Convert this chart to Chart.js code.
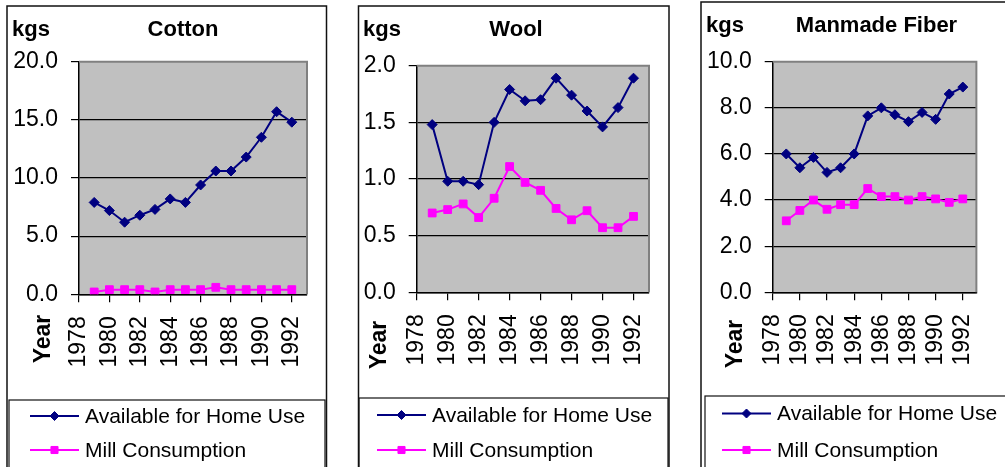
<!DOCTYPE html>
<html>
<head>
<meta charset="utf-8">
<script src="https://cdn.jsdelivr.net/npm/chart.js@4.4.1/dist/chart.umd.min.js"></script>
<style>
  html, body { margin: 0; padding: 0; background: #fff; }
  #wrap { position: relative; width: 1005px; height: 467px; overflow: hidden; background: #fff; }
  #wrap canvas { position: absolute; left: 0; top: 0; }
</style>
</head>
<body>
<div id="wrap">
  <canvas id="cotton" width="1005" height="467"></canvas>
  <canvas id="wool" width="1005" height="467"></canvas>
  <canvas id="fiber" width="1005" height="467"></canvas>
</div>
<script>
// Per-capita fibre use (kgs), 1979-1992
const years = [1979, 1980, 1981, 1982, 1983, 1984, 1985, 1986, 1987, 1988, 1989, 1990, 1991, 1992];
const yearTicks = [1978, 1980, 1982, 1984, 1986, 1988, 1990, 1992];
const yearAxisMax = 1993;

const seriesNames = ['Available for Home Use', 'Mill Consumption'];

const cottonHome = [7.9, 7.2, 6.2, 6.8, 7.3, 8.2, 7.9, 9.4, 10.6, 10.6, 11.8, 13.5, 15.7, 14.8];
const cottonMill = [0.2, 0.4, 0.4, 0.4, 0.2, 0.4, 0.4, 0.4, 0.6, 0.4, 0.4, 0.4, 0.4, 0.4];
const cottonTicks = [0, 5, 10, 15, 20];

const woolHome = [1.48, 0.98, 0.98, 0.95, 1.50, 1.79, 1.69, 1.70, 1.89, 1.74, 1.60, 1.46, 1.63, 1.89];
const woolMill = [0.70, 0.73, 0.78, 0.66, 0.83, 1.11, 0.97, 0.90, 0.74, 0.64, 0.72, 0.57, 0.57, 0.67];
const woolTicks = [0, 0.5, 1.0, 1.5, 2.0];

const fiberHome = [6.0, 5.4, 5.85, 5.2, 5.4, 6.0, 7.65, 8.0, 7.7, 7.4, 7.8, 7.5, 8.6, 8.9];
const fiberMill = [3.1, 3.55, 4.0, 3.6, 3.8, 3.8, 4.5, 4.15, 4.15, 4.0, 4.15, 4.05, 3.9, 4.05];
const fiberTicks = [0, 2, 4, 6, 8, 10];

const FONT = '"Liberation Sans", Arial, Helvetica, sans-serif';
const W = 1005, H = 467;
const Y_AXIS_W = 75, X_AXIS_H = 80;

// Layout of each chart box on the page
const panels = [
  { canvas: 'cotton', title: 'Cotton', home: cottonHome, mill: cottonMill, ticks: cottonTicks,
    frame: [7, 6, 326.5, 520], plot: [79, 61.7, 307, 294.3],
    legendBox: [9, 400, 325, 520], legendLine: 30, legendText: 85, legendRows: [416, 450],
    titleX: 183, titleY: 36, unitX: 12, yearX: 44, yearY: 339 },
  { canvas: 'wool', title: 'Wool', home: woolHome, mill: woolMill, ticks: woolTicks,
    frame: [358.5, 6, 669, 520], plot: [416.7, 65.7, 649, 292.3],
    legendBox: [359, 398, 668, 520], legendLine: 377, legendText: 432, legendRows: [415, 450],
    titleX: 516, titleY: 36, unitX: 363, yearX: 380, yearY: 345 },
  { canvas: 'fiber', title: 'Manmade Fiber', home: fiberHome, mill: fiberMill, ticks: fiberTicks,
    frame: [701, 2, 1020, 520], plot: [772.7, 61.7, 996, 292.3],
    legendBox: [705, 396, 1020, 520], legendLine: 722, legendText: 777, legendRows: [413.5, 450],
    titleX: 876.5, titleY: 32, unitX: 706, yearX: 736, yearY: 344 }
];

const panelPlugin = {
  id: 'panel',
  beforeDraw(chart) {
    const { ctx, chartArea: a } = chart;
    ctx.save();
    ctx.fillStyle = '#c0c0c0';
    ctx.fillRect(a.left, a.top, a.right - a.left, a.bottom - a.top);
    ctx.restore();
  },
  beforeDatasetsDraw(chart) {
    const { ctx, chartArea: a } = chart;
    ctx.save();
    ctx.strokeStyle = '#808080';
    ctx.lineWidth = 2;
    ctx.beginPath();
    ctx.moveTo(a.left, a.top);
    ctx.lineTo(a.right, a.top);
    ctx.lineTo(a.right, a.bottom);
    ctx.stroke();
    ctx.restore();
  },
  afterDraw(chart, args, p) {
    const ctx = chart.ctx;
    ctx.save();
    // outer frame
    ctx.strokeStyle = '#111';
    ctx.lineWidth = 1.5;
    const f = p.frame;
    ctx.strokeRect(f[0], f[1], f[2] - f[0], f[3] - f[1]);
    // legend box
    const lb = p.legendBox;
    ctx.lineWidth = 1.2;
    ctx.strokeRect(lb[0], lb[1], lb[2] - lb[0], lb[3] - lb[1]);

    // legend entries: line with marker, then series name
    chart.data.datasets.forEach((ds, i) => {
      const y = p.legendRows[i];
      const x0 = p.legendLine, x1 = p.legendLine + 49;
      ctx.strokeStyle = ds.borderColor;
      ctx.lineWidth = 2;
      ctx.beginPath();
      ctx.moveTo(x0, y);
      ctx.lineTo(x1, y);
      ctx.stroke();
      ctx.fillStyle = ds.backgroundColor;
      ctx.strokeStyle = ds.borderColor;
      ctx.lineWidth = 1;
      Chart.helpers.drawPoint(ctx, {
        pointStyle: ds.pointStyle, radius: ds.pointStyle === 'rect' ? 5 : 4.5,
        borderWidth: 1, rotation: 0
      }, (x0 + x1) / 2, y);
      ctx.fillStyle = '#000';
      ctx.font = '21px ' + FONT;
      ctx.textAlign = 'left';
      ctx.textBaseline = 'middle';
      ctx.fillText(ds.label, p.legendText, y + 1);
    });

    // title and unit label
    ctx.fillStyle = '#000';
    ctx.font = 'bold 22px ' + FONT;
    ctx.textBaseline = 'alphabetic';
    ctx.textAlign = 'center';
    ctx.fillText(p.title, p.titleX, p.titleY);
    ctx.textAlign = 'left';
    ctx.fillText('kgs', p.unitX, p.titleY);

    // rotated axis label
    ctx.translate(p.yearX, p.yearY);
    ctx.rotate(-Math.PI / 2);
    ctx.textAlign = 'center';
    ctx.textBaseline = 'middle';
    ctx.font = 'bold 23px ' + FONT;
    ctx.fillText('Year', 0, 0);
    ctx.restore();
  }
};

Chart.defaults.font.family = FONT;

panels.forEach(p => {
  const yMin = p.ticks[0];
  const yMax = p.ticks[p.ticks.length - 1];
  new Chart(document.getElementById(p.canvas), {
    type: 'line',
    data: {
      datasets: [
        {
          label: seriesNames[0],
          data: years.map((yr, i) => ({ x: yr, y: p.home[i] })),
          borderColor: '#000080',
          backgroundColor: '#000080',
          borderWidth: 2,
          pointStyle: 'rectRot',
          pointRadius: 5,
          pointBorderWidth: 1,
          tension: 0
        },
        {
          label: seriesNames[1],
          data: years.map((yr, i) => ({ x: yr, y: p.mill[i] })),
          borderColor: '#ff00ff',
          backgroundColor: '#ff00ff',
          borderWidth: 2,
          pointStyle: 'rect',
          pointRadius: 5.5,
          pointBorderWidth: 1,
          tension: 0
        }
      ]
    },
    options: {
      responsive: false,
      animation: false,
      devicePixelRatio: 1,
      events: [],
      layout: {
        padding: {
          left: p.plot[0] - Y_AXIS_W,
          top: p.plot[1],
          right: W - p.plot[2],
          bottom: H - p.plot[3] - X_AXIS_H
        }
      },
      plugins: {
        legend: { display: false },
        title: { display: false },
        tooltip: { enabled: false },
        panel: p
      },
      scales: {
        x: {
          type: 'linear',
          min: yearTicks[0],
          max: yearAxisMax,
          afterBuildTicks: s => { s.ticks = yearTicks.map(v => ({ value: v })); },
          afterFit: s => { s.height = X_AXIS_H; },
          grid: { drawOnChartArea: false, drawTicks: true, tickLength: 8, color: '#000', lineWidth: 1.2 },
          border: { color: '#000', width: 1.5 },
          ticks: {
            minRotation: 90, maxRotation: 90, autoSkip: false, padding: 14,
            color: '#000', font: { size: 23 },
            callback: v => String(v)
          }
        },
        y: {
          min: yMin,
          max: yMax,
          afterBuildTicks: s => { s.ticks = p.ticks.map(v => ({ value: v })); },
          afterFit: s => { s.width = Y_AXIS_W; },
          grid: {
            color: c => (c.tick && c.tick.value === yMax) ? 'rgba(0,0,0,0)' : '#000',
            tickColor: '#000',
            tickLength: 8,
            lineWidth: 1.2
          },
          border: { color: '#000', width: 1.5 },
          ticks: {
            padding: 13, color: '#000', font: { size: 23 },
            callback: v => Number(v).toFixed(1)
          }
        }
      }
    },
    plugins: [panelPlugin]
  });
});
</script>
</body>
</html>
